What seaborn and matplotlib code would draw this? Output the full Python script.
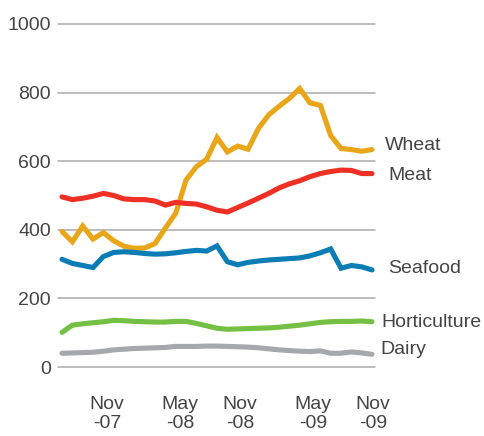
import numpy as np
import pandas as pd
import matplotlib
matplotlib.use("Agg")
import matplotlib.pyplot as plt
import seaborn as sns

months = list(range(31))
wheat = [395, 365, 411, 373, 392, 368, 352, 346, 347, 360, 405, 448, 545, 584, 606,
         669, 627, 644, 635, 695, 735, 760, 783, 812, 770, 763, 675, 637, 634, 629, 634]
meat = [496, 488, 492, 498, 506, 500, 490, 488, 488, 484, 472, 480, 477, 475, 467,
        457, 452, 465, 478, 492, 506, 522, 534, 543, 555, 564, 570, 574, 573, 564, 564]
seafood = [314, 302, 296, 290, 322, 334, 336, 334, 331, 329, 330, 333, 337, 340, 338,
           353, 307, 298, 305, 309, 312, 314, 316, 318, 324, 333, 344, 288, 296, 292, 283]
horticulture = [101, 122, 126, 129, 132, 136, 135, 133, 132, 131, 131, 133, 133, 127, 120,
                113, 110, 111, 112, 113, 114, 116, 119, 122, 126, 130, 132, 133, 133, 134, 132]
dairy = [40, 41, 42, 43, 46, 50, 52, 54, 55, 56, 57, 60, 60, 60, 61,
         61, 60, 59, 58, 56, 53, 50, 48, 46, 45, 47, 40, 40, 44, 41, 37]

series_names = ["Wheat", "Meat", "Seafood", "Horticulture", "Dairy"]
colors = ["#E8A618", "#EE3124", "#0B7DB5", "#74C044", "#A7A8AB"]
label_values = [647, 557, 286, 131, 50]
label_dx = [13, 16, 16, 9, 8]

tick_pos = [4.36, 11.42, 17.23, 24.3, 30.1]
tick_labels = ["Nov\n-07", "May\n-08", "Nov\n-08", "May\n-09", "Nov\n-09"]

df = pd.DataFrame({"month": months, "Wheat": wheat, "Meat": meat, "Seafood": seafood,
                   "Horticulture": horticulture, "Dairy": dairy})
long = df.melt(id_vars="month", var_name="series", value_name="value")

sns.set_theme(style="white")
plt.rcParams["font.family"] = ["Liberation Sans", "DejaVu Sans"]

fig = plt.figure(figsize=(4.84, 4.36), dpi=100)
ax = fig.add_axes([58 / 484, 1 - 367 / 436, (375 - 58) / 484, (367 - 24) / 436])

for y in range(0, 1001, 200):
    ax.axhline(y, color="#ABABAB", lw=1.1, zorder=0)

sns.lineplot(data=long, x="month", y="value", hue="series", hue_order=series_names,
             palette=dict(zip(series_names, colors)), linewidth=3.7, legend=False, ax=ax,
             zorder=3)
for line in ax.lines:
    line.set_clip_on(False)
    line.set_solid_capstyle("round")
    line.set_solid_joinstyle("miter")

ax.set_xlim(-0.39, 30.29)
ax.set_ylim(0, 1000)
ax.set_yticks(range(0, 1001, 200))
ax.set_xticks(tick_pos)
ax.set_xticklabels(tick_labels, linespacing=1.15)
ax.tick_params(axis="y", labelsize=14, labelcolor="#444444", pad=5, length=0)
ax.tick_params(axis="x", labelsize=14, labelcolor="#444444", pad=21, length=0)
ax.set_xlabel("")
ax.set_ylabel("")
for s in ax.spines.values():
    s.set_visible(False)
ax.grid(False)

for name, v, dx in zip(series_names, label_values, label_dx):
    ax.annotate(name, xy=(30, v), xytext=(dx, 0), textcoords="offset pixels",
                fontsize=14, color="#444444", va="center", ha="left",
                annotation_clip=False)

fig.savefig("out.png", dpi=100)
